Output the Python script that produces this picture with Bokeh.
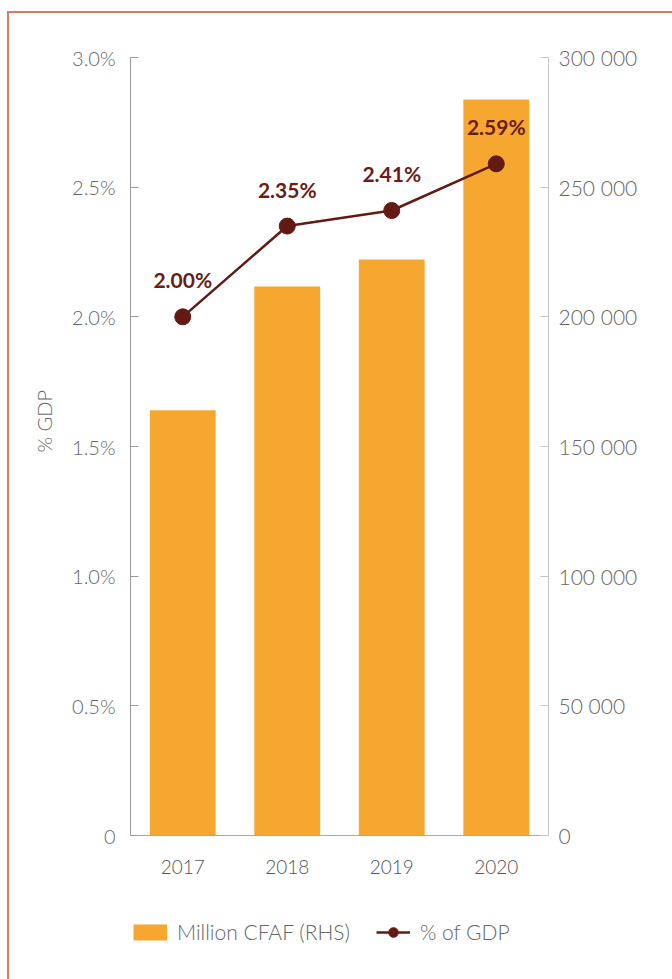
from bokeh.plotting import figure
from bokeh.models import (Range1d, LinearAxis, FixedTicker, ColumnDataSource, LabelSet,
                          Legend, LegendItem, FactorRange, PrintfTickFormatter, Title)
from bokeh.embed import file_html
from bokeh.resources import INLINE
from bokeh.core.properties import value

# ---- data ----
years = ["2017", "2018", "2019", "2020"]
million_cfaf = [164000, 211700, 222100, 283800]
pct_gdp = [2.00, 2.35, 2.41, 2.59]
left_ticks = [0, 0.5, 1.0, 1.5, 2.0, 2.5, 3.0]
right_ticks = [0, 50000, 100000, 150000, 200000, 250000, 300000]
pct_max = 3.0
amt_max = 300000

BAR = "#F6A72F"
LINE = "#621A12"
FONT = "Lato Light"
BOLD = "Lato"

# layout (pixels): chart area 778 px tall, plus 144 px below the zero line for the legend
AXIS_PX = 778
BELOW_PX = 144
pct_low = -pct_max * BELOW_PX / AXIS_PX
amt_low = -amt_max * BELOW_PX / AXIS_PX

src = ColumnDataSource(dict(
    year=years, amount=million_cfaf, pct=pct_gdp,
    lbl=[f"{v:.2f}%" for v in pct_gdp],
))

p = figure(frame_width=418, frame_height=AXIS_PX + BELOW_PX,
           x_range=FactorRange(*years, range_padding=0),
           y_range=Range1d(pct_low, pct_max), output_backend="svg", toolbar_location=None,
           min_border_left=121, min_border_right=124, min_border_top=44,
           min_border_bottom=0)
p.outline_line_color = None
p.xgrid.visible = False
p.ygrid.visible = False
p.background_fill_color = "white"
p.border_fill_color = "white"
p.styles = {"border-left": "2px solid #DA7A62", "border-top": "2px solid #DA7A62",
            "margin-top": "11px", "margin-left": "7px"}

p.extra_y_ranges = {"amt": Range1d(amt_low, amt_max)}

bars = p.vbar(x="year", top="amount", bottom=0, width=0.63, source=src, y_range_name="amt",
              fill_color=BAR, line_color=None)
line = p.line(x="year", y="pct", source=src, line_color=LINE, line_width=2.5)
pts = p.scatter(x="year", y="pct", source=src, size=16, fill_color=LINE, line_color=LINE)
# legend proxy for the bar swatch (a single point: draws nothing in the plot)
swatch = p.line(x=years[:1], y=[0], line_color=BAR, line_width=16, line_cap="butt")

labels = LabelSet(x="year", y="pct", text="lbl", source=src, y_offset=37,
                  text_align="center", text_baseline="middle", text_color="#6A1D14",
                  text_font=value(BOLD), text_font_style="bold", text_font_size="21px")
p.add_layout(labels)

# left axis
ya = p.yaxis[0]
ya.ticker = FixedTicker(ticks=left_ticks)
ya.bounds = (0, pct_max)
ya.formatter = PrintfTickFormatter(format="%.1f%%")
ya.major_label_overrides = {0: "0"}
ya.major_tick_in = 8
ya.major_tick_out = 0
ya.minor_tick_line_color = None
ya.axis_line_color = "#9a9a9a"
ya.major_tick_line_color = "#9a9a9a"
ya.major_label_text_font = FONT
ya.major_label_text_font_size = "20px"
ya.major_label_text_color = "#666666"
ya.major_label_standoff = 15

# left axis title, placed along the upper part of the axis
ytitle = Title(text="% GDP", align="left", offset=527, standoff=28,
               text_font=FONT, text_font_size="20px", text_font_style="normal",
               text_color="#666666")
p.add_layout(ytitle, "left")

# right axis
ra = LinearAxis(y_range_name="amt", ticker=FixedTicker(ticks=right_ticks), bounds=(0, amt_max))
ra.major_label_overrides = {t: f"{t:,}".replace(",", " ") for t in right_ticks}
ra.major_tick_in = 8
ra.major_tick_out = 0
ra.minor_tick_line_color = None
ra.axis_line_color = "#c4c4c4"
ra.major_tick_line_color = "#c4c4c4"
ra.major_label_text_font = FONT
ra.major_label_text_font_size = "21px"
ra.major_label_text_color = "#666666"
ra.major_label_standoff = 10
p.add_layout(ra, "right")

# x axis drawn at the zero line
xa = p.xaxis[0]
xa.fixed_location = 0
xa.major_tick_line_color = None
xa.major_tick_out = 0
xa.major_tick_in = 0
xa.minor_tick_line_color = None
xa.axis_line_color = "#a8a8a8"
xa.major_label_text_font = FONT
xa.major_label_text_font_size = "19px"
xa.major_label_text_color = "#555555"
xa.major_label_standoff = 24

# legend
leg = Legend(items=[LegendItem(label="Million CFAF (RHS)", renderers=[swatch]),
                    LegendItem(label="% of GDP", renderers=[line, pts])],
             orientation="horizontal", location=(3, 35), padding=0, margin=0,
             spacing=26, border_line_color=None, background_fill_alpha=0,
             glyph_width=34, glyph_height=24, label_height=24, label_standoff=10,
             label_text_font=FONT, label_text_font_size="21px",
             label_text_color="#666666")
p.add_layout(leg)

open("out.html", "w").write(file_html(p, INLINE))
